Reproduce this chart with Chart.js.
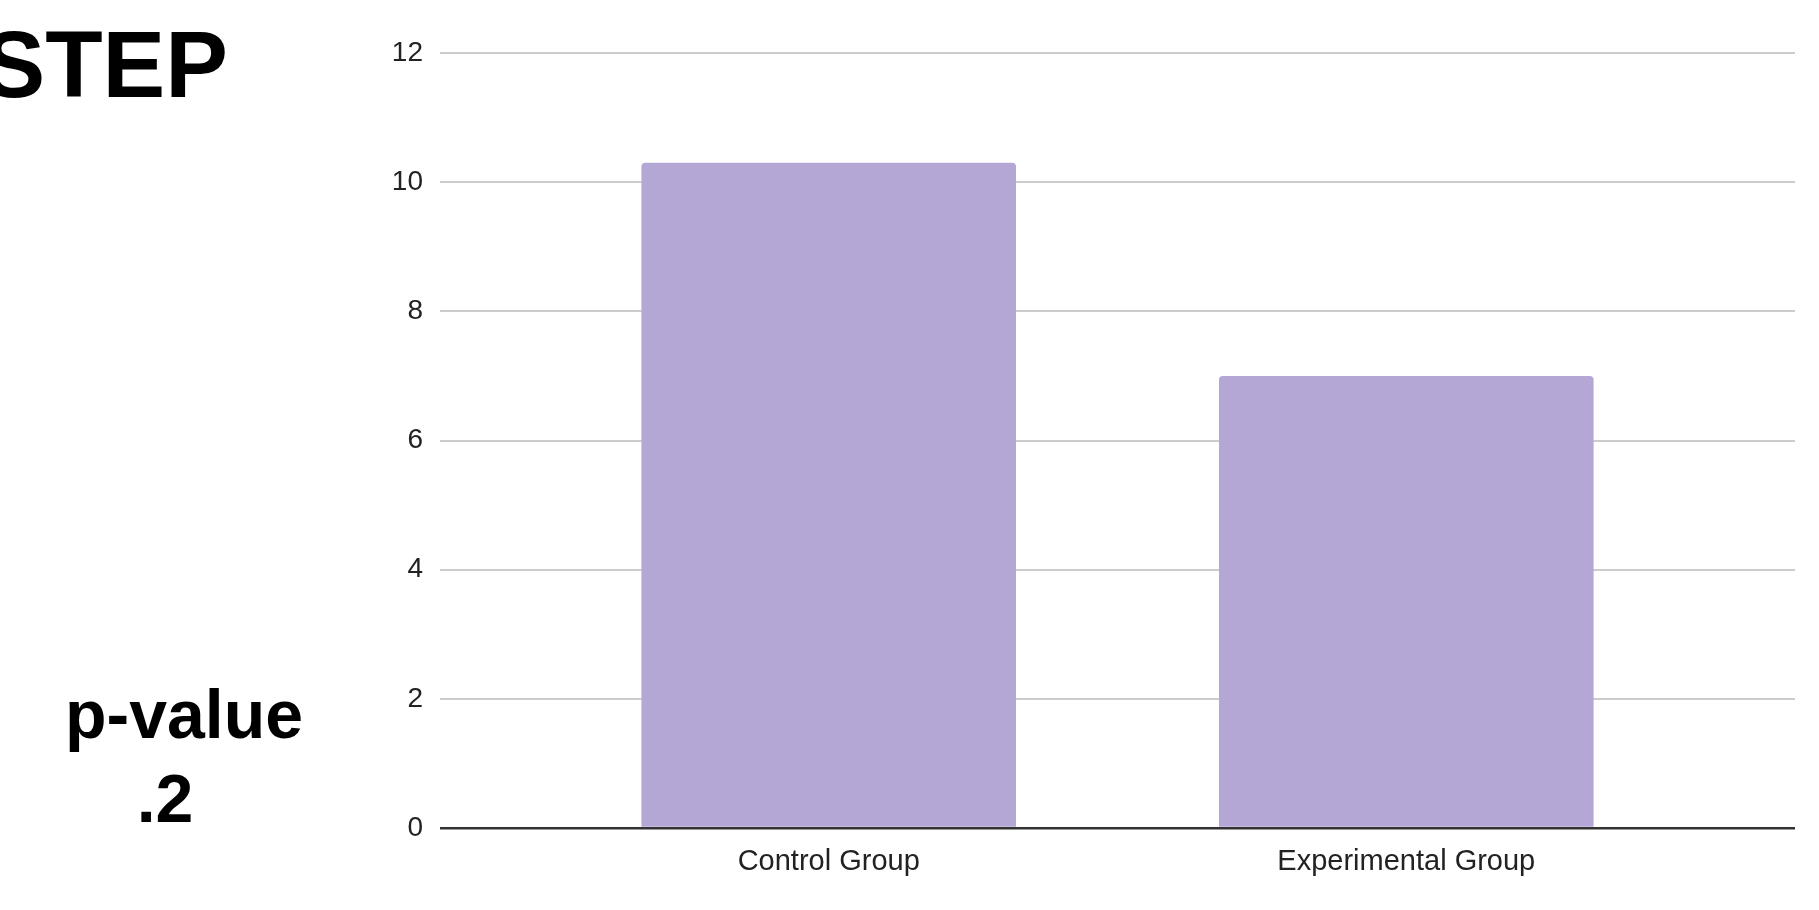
<!DOCTYPE html>
<html>
<head>
<meta charset="utf-8">
<title>STEP</title>
<script src="https://cdn.jsdelivr.net/npm/chart.js@4/dist/chart.umd.min.js"></script>
<style>
  html, body { margin: 0; padding: 0; background: #fff; overflow: hidden; }
  #wrap { position: relative; width: 1819px; height: 910px; }
  #chart { position: absolute; left: 0; top: 0; }
  .big { position: absolute; font-family: "Liberation Sans", Arial, sans-serif; font-weight: bold; color: #000; white-space: nowrap; }
  #title { right: calc(1819px - 228px); top: 0px; font-size: 94px; line-height: 130px; }
  #pval { left: 65px; width: 200px; top: 672px; font-size: 68px; line-height: 84px; text-align: center; }
</style>
</head>
<body>
<div id="wrap">
  <canvas id="chart" width="1819" height="910"></canvas>
  <div id="title" class="big">STEP</div>
  <div id="pval" class="big">p-value<br>.2</div>
</div>
<script>
// Group names and their means
const categories = ['Control Group', 'Experimental Group'];
const values = [10.3, 7];
// Value axis range and step
const yTicks = [0, 2, 4, 6, 8, 10, 12];

const barColor = '#b4a7d6';
const font = 'Liberation Sans, Arial, sans-serif';

const points = categories.map((c, i) => ({ x: i, y: values[i] }));

new Chart(document.getElementById('chart'), {
  type: 'bar',
  data: {
    datasets: [{
      data: points,
      backgroundColor: barColor,
      borderRadius: 4,
      borderSkipped: 'start',
      categoryPercentage: 1,
      barPercentage: 0.6486
    }]
  },
  options: {
    responsive: false,
    animation: false,
    layout: { padding: { left: 0, right: 24, top: 53, bottom: 0 } },
    plugins: { legend: { display: false }, tooltip: { enabled: false } },
    scales: {
      x: {
        type: 'linear',
        offset: false,
        min: -0.673,
        max: categories.length - 1 + 0.673,
        afterBuildTicks: (scale) => { scale.ticks = categories.map((_, i) => ({ value: i })); },
        afterFit: (scale) => { scale.height = 82; },
        grid: { display: false, drawTicks: false, offset: false },
        border: { display: false },
        ticks: {
          callback: (v) => categories[v] ?? '',
          color: '#222',
          padding: 17,
          maxRotation: 0,
          autoSkip: false,
          font: { family: font, size: 29 }
        }
      },
      y: {
        min: yTicks[0],
        max: yTicks[yTicks.length - 1],
        afterBuildTicks: (scale) => { scale.ticks = yTicks.map(v => ({ value: v })); },
        afterFit: (scale) => { scale.width = 440; },
        border: { display: false },
        grid: {
          drawTicks: false,
          color: (ctx) => ctx.tick && ctx.tick.value === 0 ? '#333333' : '#cccccc',
          lineWidth: (ctx) => ctx.tick && ctx.tick.value === 0 ? 2.5 : 2
        },
        ticks: {
          color: '#222',
          padding: 17,
          font: { family: font, size: 28 }
        }
      }
    }
  }
});
</script>
</body>
</html>
